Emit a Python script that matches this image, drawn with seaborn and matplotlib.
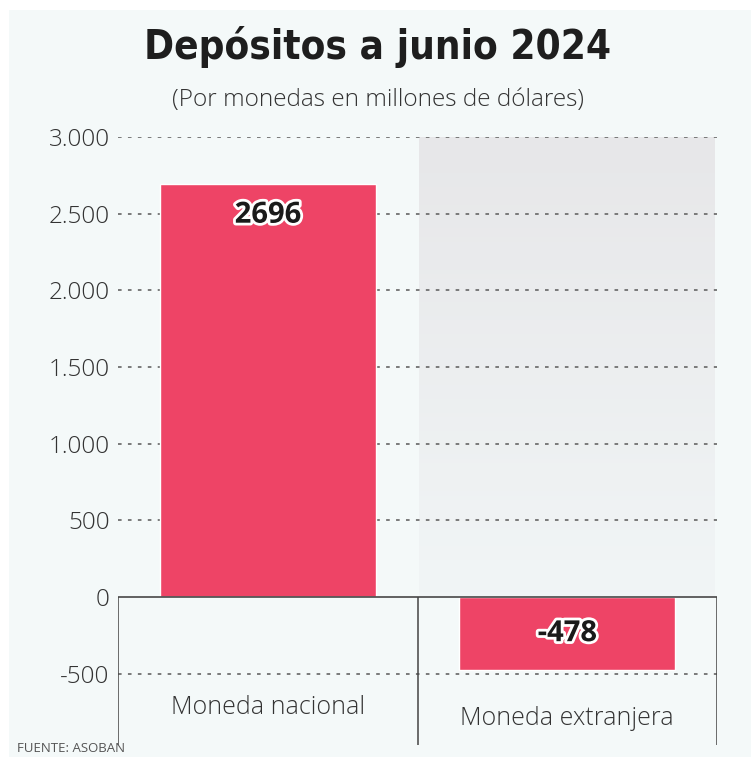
import numpy as np
import pandas as pd
import matplotlib
matplotlib.use("Agg")
import matplotlib.pyplot as plt
import matplotlib.patheffects as pe
from matplotlib.ticker import FuncFormatter
import seaborn as sns

# Data
categories = ["Moneda nacional", "Moneda extranjera"]
values = [2696, -478]
yticks = [-500, 0, 500, 1000, 1500, 2000, 2500, 3000]

title = "Depósitos a junio 2024"
subtitle = "(Por monedas en millones de dólares)"
source = "FUENTE: ASOBAN"

df = pd.DataFrame({"categoria": categories, "valor": values})

bg = "#f4f9f9"
bar_color = "#ee4466"

sns.set_style("white")
plt.rcParams["font.family"] = ["Open Sans", "DejaVu Sans"]

fig = plt.figure(figsize=(7.51, 7.57), dpi=100, facecolor="white")
# light panel behind everything
fig.patches.append(plt.Rectangle((9 / 751, 0), 1, 1 - 10 / 757, transform=fig.transFigure,
                                 facecolor=bg, edgecolor="none", zorder=-10))

ax = fig.add_axes([118 / 751, 1 - 745 / 757, 599 / 751, 608 / 757])
ax.set_facecolor("none")
ymin, ymax = -965, 3000

# gray gradient behind second category
grad = np.linspace(0, 1, 100).reshape(-1, 1)
cmap = matplotlib.colors.LinearSegmentedColormap.from_list("g", ["#e7e7e9", "#f1f5f6"])
ax.imshow(grad, extent=(0.505, 1.49, 0, 3000), aspect="auto", cmap=cmap,
          origin="upper", zorder=0)

# dotted gridlines
grid_vals = [v for v in yticks if v != 0]
ax.hlines(grid_vals, -0.5, 1.5, colors="#707070", linestyles=(0, (2, 3.5)),
          linewidth=1.3, zorder=1)

sns.barplot(data=df, x="categoria", y="valor", color=bar_color, saturation=1,
            width=0.72, ax=ax, zorder=2)

# zero line and column separators
ax.axhline(0, color="#555555", linewidth=1.3, zorder=3)
ax.vlines([-0.5, 0.5, 1.5], ymin, 0, colors="#444444", linewidth=1.1, zorder=3)

ax.set_xlim(-0.5, 1.5)
ax.set_ylim(ymin, ymax)
for s in ax.spines.values():
    s.set_visible(False)

ax.set_yticks(yticks)
ax.yaxis.set_major_formatter(FuncFormatter(lambda v, p: f"{int(v):,}".replace(",", ".")))
ax.tick_params(axis="y", length=0, pad=6, labelsize=17.5, labelcolor="#333333")
for lab in ax.get_yticklabels():
    lab.set_fontweight("light")
ax.set_xticks([])
ax.set_xlabel("")
ax.set_ylabel("")

# category labels under the zero line
label_y = [-720, -790]
for i, cat in enumerate(categories):
    ax.text(i, label_y[i], cat, ha="center", va="center", fontsize=18,
            fontweight="light", color="#333333", zorder=4)

# value labels
label_pos = [2490, -239]
for i, v in enumerate(values):
    ax.text(i, label_pos[i], f"{v}", ha="center", va="center", fontsize=21,
            fontweight="bold", color="#1a1a1a", zorder=5,
            path_effects=[pe.withStroke(linewidth=4, foreground="white")])

fig.text(378 / 751, 1 - 47 / 757, title, ha="center", va="center", fontsize=29,
         fontweight="bold", color="#1e1e1e", fontstretch="condensed",
         family=["Liberation Sans Narrow", "DejaVu Sans"])
fig.text(378 / 751, 1 - 100 / 757, subtitle, ha="center", va="center", fontsize=17.6,
         fontweight="light", color="#333333")
fig.text(17 / 751, 1 - 749 / 757, source, ha="left", va="center", fontsize=9.5,
         color="#555555")

fig.savefig("out.png", dpi=100, facecolor="white")
